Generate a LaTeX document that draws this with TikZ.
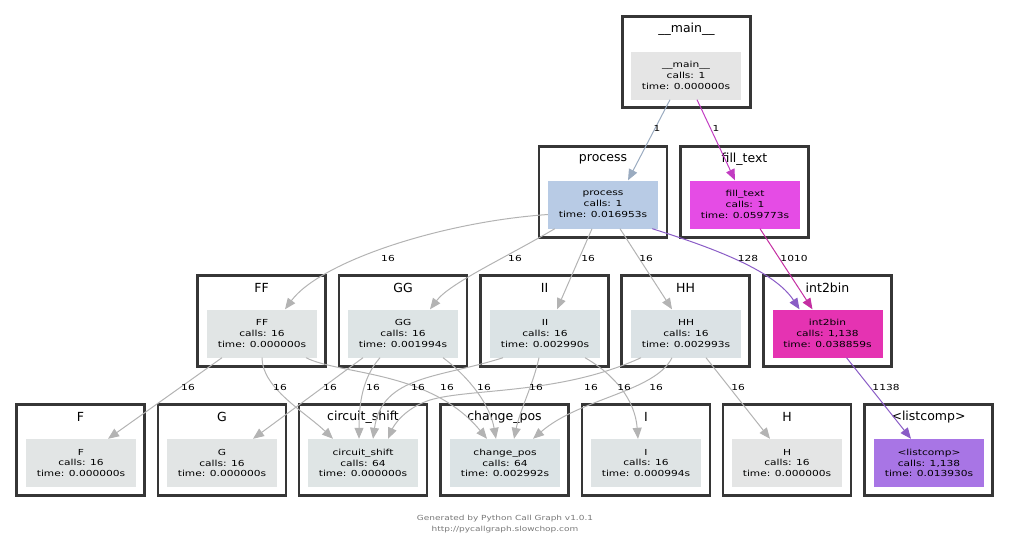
\documentclass[tikz,border=0pt]{standalone}
\usepackage{fontspec}
\setmainfont{DejaVu Sans}
\newfontfamily\boxfont[FakeStretch=1.28]{DejaVu Sans}
\usepackage[dvipsnames]{xcolor}
\usepackage{tikz}
\usetikzlibrary{arrows.meta}

\definecolor{clborder}{HTML}{363636}
\definecolor{callgray}{HTML}{B3B3B3}
\definecolor{callblue}{HTML}{9AABC0}
\definecolor{callmag}{HTML}{C23CC2}
\definecolor{callpink}{HTML}{C42FA2}
\definecolor{callpurple}{HTML}{8A5CC6}
\definecolor{fmain}{HTML}{E5E5E5}
\definecolor{fprocess}{HTML}{B8CBE5}
\definecolor{ffilltext}{HTML}{E54CE5}
\definecolor{fFF}{HTML}{E1E5E5}
\definecolor{fGG}{HTML}{DDE4E5}
\definecolor{fII}{HTML}{DBE3E5}
\definecolor{fHH}{HTML}{DBE2E5}
\definecolor{fintbin}{HTML}{E533B2}
\definecolor{fF}{HTML}{E2E5E5}
\definecolor{fG}{HTML}{E2E5E5}
\definecolor{fcirc}{HTML}{DFE5E5}
\definecolor{fchange}{HTML}{DBE3E5}
\definecolor{fI}{HTML}{DFE4E5}
\definecolor{fH}{HTML}{E4E5E5}
\definecolor{flist}{HTML}{A875E5}

\begin{document}
\begin{tikzpicture}[x=1pt, y=-1pt]
        \tikzset{cluster/.style = {draw=clborder, line width=2.6pt, minimum width=128pt, minimum height=91pt, inner sep=0pt},
                 ctitle/.style = {font=\fontsize{12.5}{14}\selectfont, anchor=center, yshift=-14pt},
                 func/.style = {minimum width=110pt, minimum height=48pt, inner sep=0pt, align=center, font=\boxfont\fontsize{8.3}{10.8}\selectfont},
                 call/.style = {draw=callgray, line width=1pt, -{Triangle[length=11pt, width=9pt]}},
                 num/.style = {font=\boxfont\fontsize{8.3}{10}\selectfont, inner sep=0pt},
                 footer/.style = {font=\boxfont\fontsize{7}{10.5}\selectfont, text=black!53, align=center}}
        \useasboundingbox (0,0) rectangle (1011,547);
        % clusters
        \node[cluster, label={[ctitle]north:\_\_main\_\_}] (cmain) at (686.5,62) {};
        \node[cluster, label={[ctitle]north:process}] (cprocess) at (603,192) {};
        \node[cluster, label={[ctitle]north:fill\_text}] (cfilltext) at (744.5,192) {};
        \node[cluster, label={[ctitle]north:FF}] (cFF) at (261.5,321) {};
        \node[cluster, label={[ctitle]north:GG}] (cGG) at (403,321) {};
        \node[cluster, label={[ctitle]north:II}] (cII) at (544.5,321) {};
        \node[cluster, label={[ctitle]north:HH}] (cHH) at (685.5,321) {};
        \node[cluster, label={[ctitle]north:int2bin}] (cintbin) at (827.5,321) {};
        \node[cluster, label={[ctitle]north:F}] (cF) at (80.5,450) {};
        \node[cluster, label={[ctitle]north:G}] (cG) at (222,450) {};
        \node[cluster, label={[ctitle]north:circuit\_shift}] (ccirc) at (363,450) {};
        \node[cluster, label={[ctitle]north:change\_pos}] (cchange) at (504.5,450) {};
        \node[cluster, label={[ctitle]north:I}] (cI) at (646,450) {};
        \node[cluster, label={[ctitle]north:H}] (cH) at (787,450) {};
        \node[cluster, label={[ctitle]north:<listcomp>}] (clist) at (928.5,450) {};
        % functions
        \node[func, fill=fmain] (main) at (686,75.5) {\_\_main\_\_\\calls: 1\\time: 0.000000s};
        \node[func, fill=fprocess] (process) at (603,204.5) {process\\calls: 1\\time: 0.016953s};
        \node[func, fill=ffilltext] (filltext) at (745,204.5) {fill\_text\\calls: 1\\time: 0.059773s};
        \node[func, fill=fFF] (FF) at (262,333.5) {FF\\calls: 16\\time: 0.000000s};
        \node[func, fill=fGG] (GG) at (403,333.5) {GG\\calls: 16\\time: 0.001994s};
        \node[func, fill=fII] (II) at (545,333.5) {II\\calls: 16\\time: 0.002990s};
        \node[func, fill=fHH] (HH) at (686,333.5) {HH\\calls: 16\\time: 0.002993s};
        \node[func, fill=fintbin] (intbin) at (827.5,333.5) {int2bin\\calls: 1,138\\time: 0.038859s};
        \node[func, fill=fF] (F) at (81,463) {F\\calls: 16\\time: 0.000000s};
        \node[func, fill=fG] (G) at (222,463) {G\\calls: 16\\time: 0.000000s};
        \node[func, fill=fcirc] (circshift) at (363,463) {circuit\_shift\\calls: 64\\time: 0.000000s};
        \node[func, fill=fchange] (changepos) at (505,463) {change\_pos\\calls: 64\\time: 0.002992s};
        \node[func, fill=fI] (I) at (646,463) {I\\calls: 16\\time: 0.000994s};
        \node[func, fill=fH] (H) at (787,463) {H\\calls: 16\\time: 0.000000s};
        \node[func, fill=flist] (listcomp) at (929,463) {<listcomp>\\calls: 1,138\\time: 0.013930s};
        % calls
        \draw[call, draw=callblue] ([xshift=-16]main.south) -- ([xshift=25]process.north);
        \draw[call, draw=callmag] ([xshift=11]main.south) -- ([xshift=-10]filltext.north);
        \draw[call] ([yshift=-10]process.west) .. controls (440,222) and (320,262) .. ([xshift=23]FF.north);
        \draw[call] ([xshift=7]process.south west) .. controls (505,258) and (450,283) .. ([xshift=27]GG.north);
        \draw[call] ([xshift=-11]process.south) -- ([xshift=12]II.north);
        \draw[call] ([xshift=17]process.south) -- ([xshift=-14]HH.north);
        \draw[call, draw=callpurple] ([xshift=-6]process.south east) .. controls (720,250) and (775,272) .. ([xshift=-28]intbin.north);
        \draw[call, draw=callpink] ([xshift=15]filltext.south) -- ([xshift=-15]intbin.north);
        \draw[call, draw=callpurple] ([xshift=19]intbin.south) -- ([xshift=-18]listcomp.north);
        \draw[call] ([xshift=-40]FF.south) -- ([xshift=27]F.north);
        \draw[call] (FF.south) .. controls (262,388) and (305,412) .. ([xshift=-30]circshift.north);
        \draw[call] ([xshift=44]FF.south) .. controls (340,375) and (430,370) .. ([xshift=-18]changepos.north);
        \draw[call] ([xshift=-40]GG.south) -- ([xshift=31]G.north);
        \draw[call] ([xshift=-23]GG.south) .. controls (362,378) and (359,405) .. ([xshift=-4]circshift.north);
        \draw[call] ([xshift=40]GG.south) .. controls (470,378) and (490,405) .. ([xshift=-9]changepos.north);
        \draw[call] ([xshift=-42]II.south) .. controls (440,378) and (382,375) .. ([xshift=10]circshift.north);
        \draw[call] ([xshift=-6]II.south) .. controls (533,385) and (520,410) .. ([xshift=9]changepos.north);
        \draw[call] ([xshift=40]II.south) .. controls (615,375) and (635,400) .. ([xshift=-8]I.north);
        \draw[call] ([xshift=-45]HH.south) .. controls (560,395) and (470,388) .. (430,400) .. controls (405,408) and (394,425) .. ([xshift=25]circshift.north);
        \draw[call] ([xshift=-14]HH.south) .. controls (655,392) and (580,398) .. ([xshift=28]changepos.north);
        \draw[call] ([xshift=20]HH.south) -- ([xshift=-17]H.north);
        % call counts
        \node[num] (n1) at (657,128) {1};
        \node[num] (n2) at (716,128) {1};
        \node[num] (n3) at (388,258) {16};
        \node[num] (n4) at (515,258) {16};
        \node[num] (n5) at (588,258) {16};
        \node[num] (n6) at (646,258) {16};
        \node[num] (n7) at (748,258) {128};
        \node[num] (n8) at (794,258) {1010};
        \node[num] (n9) at (886,387) {1138};
        \node[num] (n10) at (188,387) {16};
        \node[num] (n11) at (280,387) {16};
        \node[num] (n12) at (330,387) {16};
        \node[num] (n13) at (373,387) {16};
        \node[num] (n14) at (418,387) {16};
        \node[num] (n15) at (447,387) {16};
        \node[num] (n16) at (484,387) {16};
        \node[num] (n17) at (536,387) {16};
        \node[num] (n18) at (591,387) {16};
        \node[num] (n19) at (624,387) {16};
        \node[num] (n20) at (656,387) {16};
        \node[num] (n21) at (738,387) {16};
        % footer
        \node[footer] (credit) at (505,524) {Generated by Python Call Graph v1.0.1\\http://pycallgraph.slowchop.com};
\end{tikzpicture}
\end{document}
